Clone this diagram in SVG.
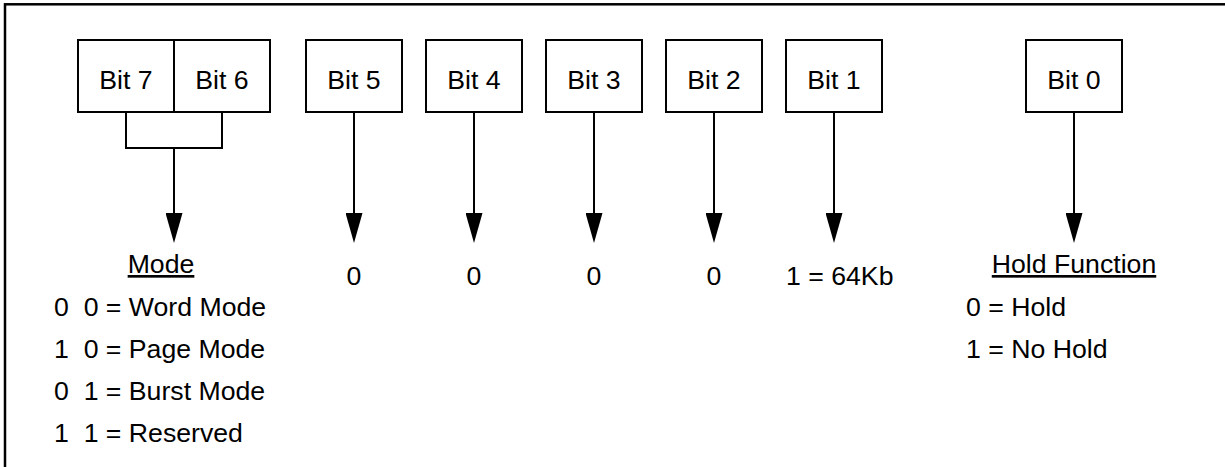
<svg xmlns="http://www.w3.org/2000/svg" width="1225" height="467" viewBox="0 0 1225 467">
  <style>
    .box { fill: #ffffff; stroke: #000000; stroke-width: 2; }
    .lbl { font-family: "Liberation Sans", Arial, sans-serif; font-size: 26.67px; fill: #000000; }
    .mid { text-anchor: middle; }
    .conn { fill: none; stroke: #000000; stroke-width: 2; }
  </style>
  <defs>
    <marker id="arrow" markerUnits="userSpaceOnUse" viewBox="0 0 30 17" markerWidth="30" markerHeight="17" refX="2" refY="8.5" orient="auto">
      <path d="M0,0 L30,8.5 L0,17 Z" fill="#000000"/>
    </marker>
  </defs>
  <rect x="0" y="0" width="1225" height="467" fill="#ffffff"/>
  <rect id="frame" x="5" y="4.3" width="1240" height="480" fill="none" stroke="#000000" stroke-width="2.5"/>

  <g id="bit7">
    <rect class="box" x="78" y="40" width="96" height="72"/>
    <text class="lbl mid" x="126" y="89">Bit 7</text>
  </g>
  <g id="bit6">
    <rect class="box" x="174" y="40" width="96" height="72"/>
    <text class="lbl mid" x="222" y="89">Bit 6</text>
  </g>
  <g id="bit5">
    <rect class="box" x="306" y="40" width="96" height="72"/>
    <text class="lbl mid" x="354" y="89">Bit 5</text>
  </g>
  <g id="bit4">
    <rect class="box" x="426" y="40" width="96" height="72"/>
    <text class="lbl mid" x="474" y="89">Bit 4</text>
  </g>
  <g id="bit3">
    <rect class="box" x="546" y="40" width="96" height="72"/>
    <text class="lbl mid" x="594" y="89">Bit 3</text>
  </g>
  <g id="bit2">
    <rect class="box" x="666" y="40" width="96" height="72"/>
    <text class="lbl mid" x="714" y="89">Bit 2</text>
  </g>
  <g id="bit1">
    <rect class="box" x="786" y="40" width="96" height="72"/>
    <text class="lbl mid" x="834" y="89">Bit 1</text>
  </g>
  <g id="bit0">
    <rect class="box" x="1026" y="40" width="96" height="72"/>
    <text class="lbl mid" x="1074" y="89">Bit 0</text>
  </g>

  <g id="connectors">
    <path class="conn" d="M126,112 V148 H222 V112"/>
    <line class="conn" x1="174" y1="148" x2="174" y2="215" marker-end="url(#arrow)"/>
    <line class="conn" x1="354" y1="112" x2="354" y2="215" marker-end="url(#arrow)"/>
    <line class="conn" x1="474" y1="112" x2="474" y2="215" marker-end="url(#arrow)"/>
    <line class="conn" x1="594" y1="112" x2="594" y2="215" marker-end="url(#arrow)"/>
    <line class="conn" x1="714" y1="112" x2="714" y2="215" marker-end="url(#arrow)"/>
    <line class="conn" x1="834" y1="112" x2="834" y2="215" marker-end="url(#arrow)"/>
    <line class="conn" x1="1074" y1="112" x2="1074" y2="215" marker-end="url(#arrow)"/>
  </g>

  <g id="mode-legend">
    <text class="lbl mid" x="161" y="273" text-decoration="underline">Mode</text>
    <text class="lbl" x="54" y="316" xml:space="preserve">0  0 = Word Mode</text>
    <text class="lbl" x="54" y="358" xml:space="preserve">1  0 = Page Mode</text>
    <text class="lbl" x="54" y="400" xml:space="preserve">0  1 = Burst Mode</text>
    <text class="lbl" x="54" y="442" xml:space="preserve">1  1 = Reserved</text>
  </g>
  <g id="values">
    <text class="lbl mid" x="354" y="285">0</text>
    <text class="lbl mid" x="474" y="285">0</text>
    <text class="lbl mid" x="594" y="285">0</text>
    <text class="lbl mid" x="714" y="285">0</text>
    <text class="lbl" x="786" y="285">1 = 64Kb</text>
  </g>
  <g id="hold-legend">
    <text class="lbl mid" x="1074" y="273" text-decoration="underline">Hold Function</text>
    <text class="lbl" x="966" y="316">0 = Hold</text>
    <text class="lbl" x="966" y="358">1 = No Hold</text>
  </g>
</svg>
